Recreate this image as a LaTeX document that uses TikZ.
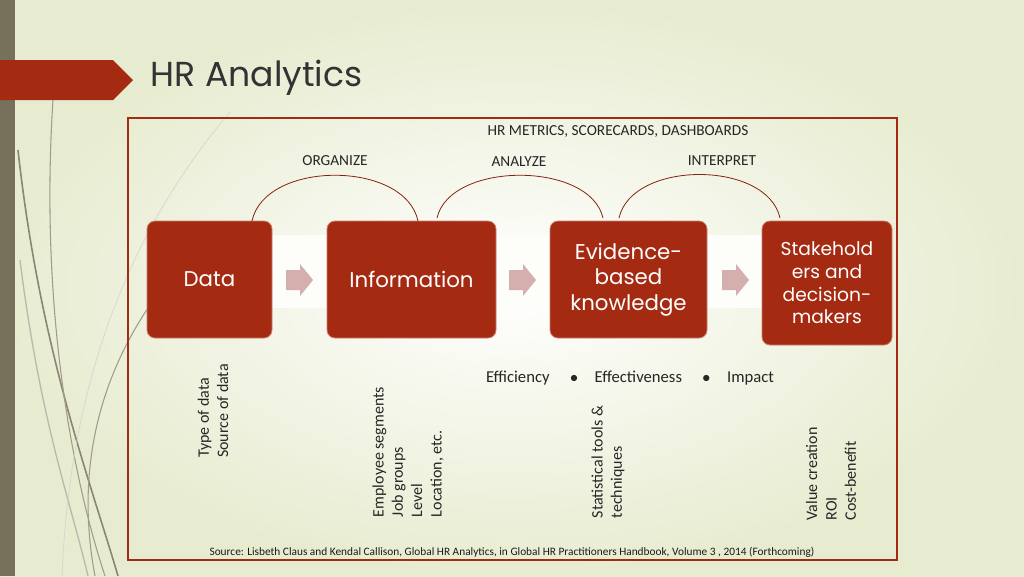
\documentclass[tikz,border=0pt]{standalone}
\usepackage{fontspec}
\setmainfont{Carlito}
\newfontfamily\gothic{Poppins}
\begin{document}
\begin{tikzpicture}[x=0.75pt,y=-0.75pt,
  stepbox/.style={fill=boxred,draw=boxred!60!white,line width=0.6pt,rounded corners=6pt,text=white,font=\gothic\fontsize{16}{19}\selectfont,align=center,inner sep=2pt},
  flowarrow/.style={fill=arrowpink,draw=none},
  phase/.style={draw=boxred!80!black,line width=0.6pt},
  tag/.style={font=\fontsize{11.5}{13}\selectfont,text=black!85},
  sidelabel/.style={rotate=90,align=left,font=\fontsize{12}{14.5}\selectfont,text=black!85,inner sep=0pt}]
\definecolor{boxred}{HTML}{A52A12}
\definecolor{arrowpink}{HTML}{D5AEAE}
\definecolor{olive}{HTML}{77705A}
\definecolor{bgreen}{HTML}{E7ECD0}
\useasboundingbox (0,0) rectangle (1024,576);
\shade[inner color=white,outer color=bgreen] (0,0) rectangle (1024,576);
% decorative strokes
\fill[olive] (0,0) rectangle (15,576);
\draw[olive!85,line width=1.2pt] (18,150) .. controls (40,350) and (90,480) .. (118,576);
\draw[olive!70,line width=0.8pt] (53,100) .. controls (40,300) and (70,470) .. (105,576);
\draw[olive!50,line width=1.0pt] (20,260) .. controls (40,420) and (70,500) .. (88,576);
\draw[olive!70,line width=0.8pt] (148,308) .. controls (100,380) and (75,470) .. (95,576);
\draw[olive!30,line width=0.5pt] (230,112) .. controls (130,230) and (70,380) .. (62,576);
\fill[boxred] (0,60) -- (113,60) -- (133,80) -- (113,100) -- (0,100) -- cycle;
\node[anchor=west,font=\gothic\fontsize{26}{28}\selectfont,text=black!80] (title) at (146,78) {HR Analytics};
% frame
\draw[boxred,line width=0.8pt] (128,118) rectangle (897,560);
\fill[white!90!bgreen] (200,235) rectangle (830,308);
% boxes
\node[stepbox,minimum width=93.75,minimum height=87.75] (data) at (209.5,279.5) {Data};
\node[stepbox,minimum width=126.75,minimum height=87.75] (info) at (411.5,279.5) {Information};
\node[stepbox,minimum width=117.75,minimum height=87.75] (know) at (628.5,279.5) {Evidence-\\based\\knowledge};
\node[stepbox,minimum width=97.5,minimum height=93,font=\gothic\fontsize{14}{17}\selectfont] (stake) at (827,283) {Stakehold\\ers and\\decision-\\makers};
% arrows
\foreach \x in {286,509,722}{
  \fill[flowarrow] (\x,270) -- (\x+14,270) -- (\x+14,264) -- (\x+27,280) -- (\x+14,296) -- (\x+14,290) -- (\x,290) -- cycle;
}
% phases
\draw[phase] (252,221) .. controls (265,160) and (405,160) .. (418,221);
\draw[phase] (437,218) .. controls (450,161) and (590,161) .. (603,218);
\draw[phase] (619,218) .. controls (632,160) and (767,160) .. (780,218);
\node[tag] (org) at (335,161) {ORGANIZE};
\node[tag] (ana) at (519,162) {ANALYZE};
\node[tag] (int) at (722,161) {INTERPRET};
\node[tag] (hrm) at (618,131) {HR METRICS, SCORECARDS, DASHBOARDS};
\node[font=\fontsize{12.5}{14}\selectfont,text=black!85] (eff) at (630,378) {Efficiency \quad$\bullet$\quad Effectiveness \quad$\bullet$\quad Impact};
% side labels
\node[sidelabel] (dl) at (213,411) {Type of data\\Source of data};
\node[sidelabel] (il) at (408,452) {Employee segments\\Job groups\\Level\\Location, etc.};
\node[sidelabel] (kl) at (608,462) {Statistical tools \&\\techniques};
\node[sidelabel] (sl) at (831,474) {Value creation\\ROI\\Cost-benefit};
\node[font=\fontsize{8.5}{10}\selectfont,text=black!90] (src) at (512,552) {Source: Lisbeth Claus and Kendal Callison, Global HR Analytics, in Global HR Practitioners Handbook, Volume 3 , 2014 (Forthcoming)};
\end{tikzpicture}
\end{document}
